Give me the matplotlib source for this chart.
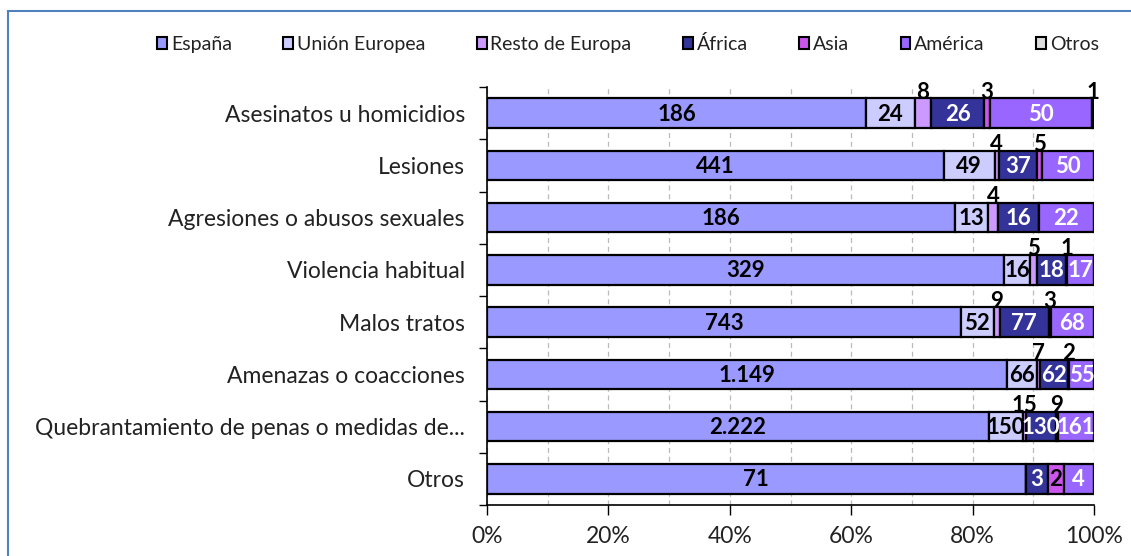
import matplotlib.pyplot as plt
import matplotlib.patches as mpatches
import numpy as np

plt.rcParams['font.family'] = ['Lato', 'DejaVu Sans']

# Categorías (de arriba a abajo)
categorias = [
    "Asesinatos u homicidios",
    "Lesiones",
    "Agresiones o abusos sexuales",
    "Violencia habitual",
    "Malos tratos",
    "Amenazas o coacciones",
    "Quebrantamiento de penas o medidas de...",
    "Otros",
]

series = ["España", "Unión Europea", "Resto de Europa", "África", "Asia", "América", "Otros"]

espana = [186, 441, 186, 329, 743, 1149, 2222, 71]
union_europea = [24, 49, 13, 16, 52, 66, 150, 0]
resto_europa = [8, 4, 4, 5, 9, 7, 15, 0]
africa = [26, 37, 16, 18, 77, 62, 130, 3]
asia = [3, 5, 0, 1, 3, 2, 9, 2]
america = [50, 50, 22, 17, 68, 55, 161, 4]
otros = [1, 0, 0, 0, 0, 0, 0, 0]

etiquetas_espana = ["186", "441", "186", "329", "743", "1.149", "2.222", "71"]

colores = ["#9999FF", "#CCCCFF", "#CC99FF", "#333399", "#CC55EE", "#9966FF", "#DDDDDD"]
color_texto = ["black", "black", "black", "white", "black", "white", "black"]
# series cuyas etiquetas van encima de la barra
encima = ["Resto de Europa", "Asia", "Otros"]

datos = np.array([espana, union_europea, resto_europa, africa, asia, america, otros], dtype=float)
totales = datos.sum(axis=0)
pct = datos / totales

fig = plt.figure(figsize=(11.31, 5.56), dpi=100)
ax = fig.add_axes([487 / 1131, 1 - 505 / 556, 607 / 1131, 418 / 556])

alto = 0.56
y = np.arange(len(categorias))
izq = np.zeros(len(categorias))
for i, nombre in enumerate(series):
    ax.barh(y, pct[i], left=izq, height=alto, color=colores[i],
            edgecolor="black", linewidth=1.6, label=nombre, zorder=3)
    for j in range(len(categorias)):
        v = datos[i, j]
        if v == 0:
            continue
        txt = etiquetas_espana[j] if i == 0 else str(int(v))
        xc = izq[j] + pct[i, j] / 2
        if nombre in encima and not (nombre == "Asia" and categorias[j] == "Otros"):
            ax.text(xc, y[j] - alto / 2 + 0.08, txt, ha="center", va="bottom", fontsize=16,
                    fontweight="bold", color="black", zorder=5)
        else:
            ax.text(xc, y[j] + 0.02, txt, ha="center", va="center", fontsize=16,
                    fontweight="bold", color=color_texto[i], zorder=5)
    izq += pct[i]

ax.set_xlim(0, 1)
ax.set_ylim(len(categorias) - 0.5, -0.5)
ax.set_xticks(np.arange(0, 1.01, 0.2))
ax.set_xticklabels([f"{int(round(t * 100))}%" for t in np.arange(0, 1.01, 0.2)])
ax.set_xticks(np.arange(0.1, 1.01, 0.1), minor=True)
ax.grid(axis="x", which="both", linestyle=(0, (4, 3)), color="#BBBBBB", linewidth=0.9, zorder=0)
ax.set_yticks(y)
ax.set_yticklabels(categorias)
ax.set_yticks(np.arange(-0.5, len(categorias), 1), minor=True)
ax.tick_params(axis="y", which="major", length=0, pad=16, labelsize=16.5, labelcolor="#222222")
ax.tick_params(axis="y", which="minor", length=6, width=1)
ax.tick_params(axis="x", which="major", length=7, width=1, labelsize=16.5, labelcolor="#222222", pad=8)
ax.tick_params(axis="x", which="minor", length=0)
for s in ["top", "right"]:
    ax.spines[s].set_visible(False)
ax.spines["left"].set_linewidth(1.2)
ax.spines["bottom"].set_linewidth(1.2)

handles = [mpatches.Patch(facecolor=c, edgecolor="black", linewidth=1.5) for c in colores]
fig.legend(handles, series, loc="center", bbox_to_anchor=(628 / 1131, 1 - 44 / 556), ncol=7,
           frameon=False, fontsize=14, handlelength=0.5, handleheight=0.6, handletextpad=0.2,
           columnspacing=2.65, labelcolor="#222222")

# borde del gráfico (izquierda y arriba)
fig.add_artist(mpatches.Rectangle((8 / 1131, -0.1), 1.2, 1 - 11 / 556 + 0.1,
                                  transform=fig.transFigure, fill=False,
                                  edgecolor="#4F81BD", linewidth=1.5))

fig.savefig("out.png", dpi=100)
